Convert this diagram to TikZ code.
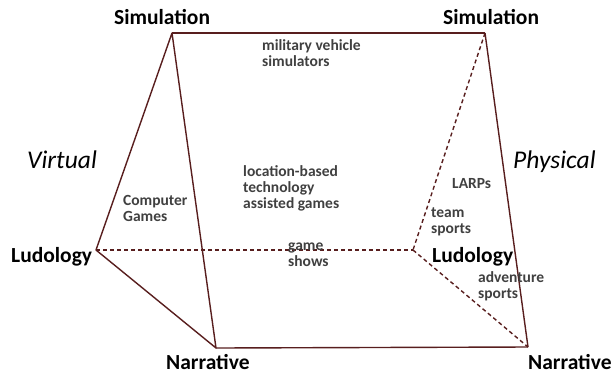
\documentclass[tikz,border=0pt]{standalone}
\usepackage{fontspec}
\setmainfont{Carlito}
\definecolor{edgecol}{RGB}{88,30,30}
\definecolor{lblcol}{RGB}{64,64,64}
\begin{document}
\begin{tikzpicture}[x=1pt,y=-1pt,
  solidedge/.style={draw=edgecol,line width=1.4pt,line join=round},
  dashededge/.style={draw=edgecol,line width=1.4pt,dash pattern=on 4pt off 3pt},
  vertexlabel/.style={font=\fontsize{21.5}{24}\selectfont\bfseries,text=black,inner sep=0pt,anchor=base west},
  sidelabel/.style={font=\fontsize{25.5}{28}\selectfont\itshape,text=black,inner sep=0pt,anchor=base west},
  genre/.style={font=\fontsize{15.5}{16}\selectfont\bfseries,text=lblcol,align=left,inner sep=0pt,anchor=base west}]
\useasboundingbox (0,0) rectangle (613,376);
% vertices
\coordinate (ls) at (172,33);
\coordinate (rs) at (485,33);
\coordinate (ll) at (96,250);
\coordinate (rl) at (413,250);
\coordinate (ln) at (216,348);
\coordinate (rn) at (528,347);
% hidden (dashed) edges
\draw[dashededge] (ll) -- (rl);
\draw[dashededge] (rs) -- (rl);
\draw[dashededge] (rl) -- (rn);
% visible edges
\draw[solidedge] (ls) -- (rs);
\draw[solidedge] (ls) -- (ll) -- (ln) -- cycle;
\draw[solidedge] (ln) -- (rn);
\draw[solidedge] (rs) -- (rn);
% vertex labels
\node[vertexlabel] (simL) at (114,24) {Simulation};
\node[vertexlabel] (simR) at (443,24) {Simulation};
\node[vertexlabel] (ludL) at (11,262) {Ludology};
\node[vertexlabel] (ludR) at (432,262) {Ludology};
\node[vertexlabel] (narL) at (166,369) {Narrative};
\node[vertexlabel] (narR) at (528,369) {Narrative};
% side labels
\node[sidelabel] (virt) at (27,168) {Virtual};
\node[sidelabel] (phys) at (513,168) {Physical};
% genre labels (anchor at baseline of last line)
\node[genre] (mil) at (262,66) {military vehicle\\simulators};
\node[genre] (comp) at (123,221) {Computer\\Games};
\node[genre] (loc) at (243,208) {location-based\\technology\\assisted games};
\node[genre] (show) at (288,266) {game\\shows};
\node[genre] (larp) at (452,188) {LARPs};
\node[genre] (team) at (431,233) {team\\sports};
\node[genre] (adv) at (478,298) {adventure\\sports};
\end{tikzpicture}
\end{document}
